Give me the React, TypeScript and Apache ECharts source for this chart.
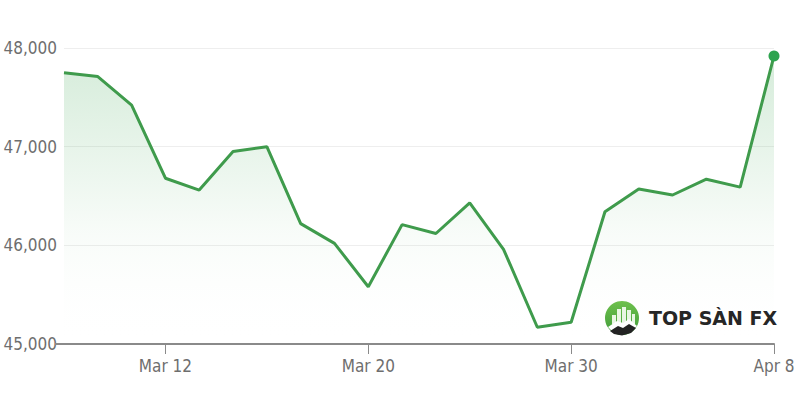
import React, { useEffect, useRef } from "react";
import * as echarts from "echarts";

const dates = [
  "Mar 9", "Mar 10", "Mar 11", "Mar 12", "Mar 13", "Mar 16", "Mar 17", "Mar 18",
  "Mar 19", "Mar 20", "Mar 23", "Mar 24", "Mar 25", "Mar 26", "Mar 27", "Mar 30",
  "Mar 31", "Apr 1", "Apr 2", "Apr 3", "Apr 6", "Apr 8",
];
const values = [
  47750, 47710, 47420, 46680, 46560, 46950, 47000, 46220, 46020, 45580, 46210,
  46120, 46430, 45960, 45170, 45220, 46340, 46570, 46510, 46670, 46590, 47920,
];
const shownLabels = ["Mar 12", "Mar 20", "Mar 30", "Apr 8"];
const yTicks = { min: 45000, max: 48000, interval: 1000 };

const FONT = "'Liberation Sans Narrow', 'Arial Narrow', 'DejaVu Sans Condensed', 'DejaVu Sans', sans-serif";

export default function App() {
  const ref = useRef<HTMLDivElement>(null);
  useEffect(() => {
    if (!ref.current) return;
    const chart = echarts.init(ref.current, undefined, { renderer: "svg" });
    const last = values.length - 1;
    chart.setOption({
      animation: false,
      backgroundColor: "#ffffff",
      grid: { left: 64, right: 26, top: 48, bottom: 56, containLabel: false },
      xAxis: {
        type: "category",
        data: dates,
        boundaryGap: false,
        axisLine: { show: true, lineStyle: { color: "#8a8a8a", width: 2 } },
        axisTick: {
          show: true,
          length: 10,
          lineStyle: { color: "#8a8a8a", width: 1 },
          interval: (i: number, v: string) => shownLabels.includes(v),
        },
        axisLabel: {
          interval: (i: number, v: string) => shownLabels.includes(v),
          color: "#6e6e6e",
          fontFamily: FONT,
          fontSize: 17,
          margin: 13,
        },
        splitLine: { show: false },
      },
      yAxis: {
        type: "value",
        min: yTicks.min,
        max: yTicks.max,
        interval: yTicks.interval,
        axisLine: { show: false },
        axisTick: { show: false },
        axisLabel: {
          color: "#6e6e6e",
          fontFamily: FONT,
          fontSize: 17,
          margin: 7,
          formatter: (v: number) => v.toLocaleString("en-US"),
        },
        splitLine: { show: true, lineStyle: { color: "#eeeeee", width: 1 } },
      },
      graphic: [
        { type: "line", shape: { x1: 55, y1: 344, x2: 64, y2: 344 }, style: { stroke: "#8a8a8a", lineWidth: 2 }, z: 10 },
        {
          type: "group",
          left: 605,
          top: 301,
          z: 20,
          children: [
            {
              type: "circle",
              shape: { cx: 17, cy: 17, r: 17 },
              style: {
                fill: new echarts.graphic.LinearGradient(0, 0, 0, 1, [
                  { offset: 0, color: "#6cc04a" },
                  { offset: 1, color: "#3f9a3a" },
                ]),
              },
            },
            { type: "rect", shape: { x: 7, y: 14, width: 4, height: 9 }, style: { fill: "#e9f6e4" } },
            { type: "rect", shape: { x: 12, y: 8, width: 4, height: 15 }, style: { fill: "#e9f6e4" } },
            { type: "rect", shape: { x: 17, y: 6, width: 4, height: 17 }, style: { fill: "#e9f6e4" } },
            { type: "rect", shape: { x: 22, y: 9, width: 4, height: 14 }, style: { fill: "#e9f6e4" } },
            { type: "rect", shape: { x: 27, y: 13, width: 3, height: 10 }, style: { fill: "#e9f6e4" } },
            { type: "polygon", shape: { points: [[3, 26], [12, 20], [18, 22], [24, 18], [32, 25], [26, 31], [17, 34], [8, 31]] }, style: { fill: "#ffffff" } },
            { type: "polygon", shape: { points: [[5, 30], [13, 25], [18, 27], [24, 23], [31, 27], [26, 32], [17, 34.5], [9, 33]] }, style: { fill: "#222222" } },
          ],
        },
        {
          type: "text",
          left: 649,
          top: 308,
          z: 20,
          style: {
            text: "TOP SÀN FX",
            fill: "#262626",
            font: "bold 19px 'DejaVu Sans', sans-serif",
          },
        },
      ],
      series: [
        {
          type: "line",
          data: values.map((v, i) =>
            i === last
              ? { value: v, symbol: "circle", symbolSize: 11, itemStyle: { color: "#2ea44f" } }
              : { value: v, symbol: "none" }
          ),
          showSymbol: true,
          lineStyle: { color: "#3f9b4c", width: 3 },
          areaStyle: {
            origin: "start",
            color: new echarts.graphic.LinearGradient(0, 0, 0, 1, [
              { offset: 0, color: "rgba(70,170,90,0.32)" },
              { offset: 0.6, color: "rgba(70,170,90,0.06)" },
              { offset: 1, color: "rgba(255,255,255,0)" },
            ]),
          },
          silent: true,
        },
      ],
    });
    return () => chart.dispose();
  }, []);
  return <div ref={ref} style={{ width: 800, height: 400, position: "absolute", left: 0, top: 0 }} />;
}
